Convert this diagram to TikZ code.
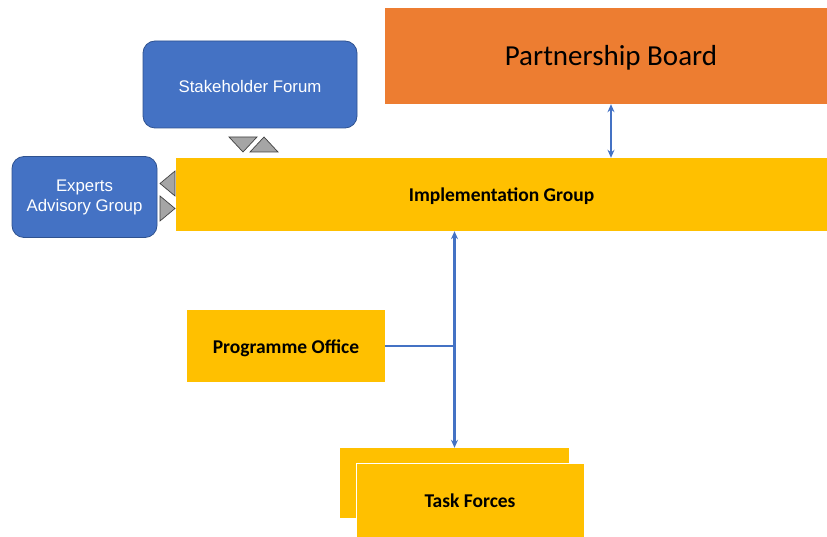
\documentclass[tikz,border=0pt]{standalone}
\usepackage{fontspec}
\setmainfont{Carlito}
\newfontfamily\arialf{Liberation Sans}
\usetikzlibrary{arrows.meta,positioning}
\definecolor{porange}{HTML}{ED7D31}
\definecolor{pyellow}{HTML}{FFC000}
\definecolor{pblue}{HTML}{4472C4}
\definecolor{pbluedark}{HTML}{2F528F}
\definecolor{pgray}{HTML}{A5A5A5}
\tikzset{
  ybox/.style={fill=pyellow, draw=none, inner sep=0pt, text height=18.6pt, text depth=3.9pt, font=\bfseries\fontsize{19.5}{23}\selectfont},
  bbox/.style={fill=pblue, draw=pbluedark, line width=0.8pt, rounded corners=12pt, inner sep=0pt, text=white, align=center, font=\arialf\fontsize{16.8}{20}\selectfont},
  conn/.style={draw=pblue, line width=2.6pt},
  dbl/.style={conn, {Stealth[length=8pt,width=7pt]}-{Stealth[length=8pt,width=7pt]}},
  tri/.style={fill=pgray, draw=black!75, line width=0.7pt, line join=miter}
}
\begin{document}
\begin{tikzpicture}[x=1pt,y=-1pt]
\useasboundingbox (0,0) rectangle (827,537);
% Partnership Board
\node[fill=porange, inner sep=0pt, minimum width=442pt, minimum height=96pt, text height=24.6pt, text depth=5.8pt, font=\fontsize{29}{34}\selectfont] (pb) at (606,56) {\hspace*{10pt}Partnership Board};
% Implementation Group
\node[ybox, minimum width=651pt, minimum height=73pt] (ig) at (501.5,194.5) {Implementation Group};
% Stakeholder Forum
\node[bbox, minimum width=214pt, minimum height=87pt, text height=16.1pt, text depth=0pt] (sf) at (250,84.5) {Stakeholder Forum};
% Experts Advisory Group
\node[bbox, minimum width=145pt, minimum height=81pt] (eag) at (84.5,197) {Experts\\Advisory Group};
% Programme Office
\node[ybox, minimum width=198pt, minimum height=72pt] (po) at (286,346) {Programme Office};
% Task Forces
\node[ybox, minimum width=229pt, minimum height=70pt] (tf0) at (454.5,483) {};
\node[ybox, draw=white, line width=1pt, minimum width=228pt, minimum height=74pt] (tf) at (470,500) {Task Forces};
% triangles (stakeholder)
\draw[tri] (229,137) -- (257,137) -- (243,152) -- cycle;
\draw[tri] (250,152) -- (278,152) -- (264,137) -- cycle;
% triangles (experts)
\draw[tri] (175,171) -- (175,196) -- (160,183.5) -- cycle;
\draw[tri] (160,196) -- (160,221) -- (175,208.5) -- cycle;
% connectors
\coordinate (px) at (611,0);
\draw[dbl] (pb.south -| px) -- (ig.north -| px);
\draw[dbl] (ig.south -| tf0.north) -- (tf0.north);
\draw[conn] (po.east) -- (po.east -| tf0.north);
\end{tikzpicture}
\end{document}
